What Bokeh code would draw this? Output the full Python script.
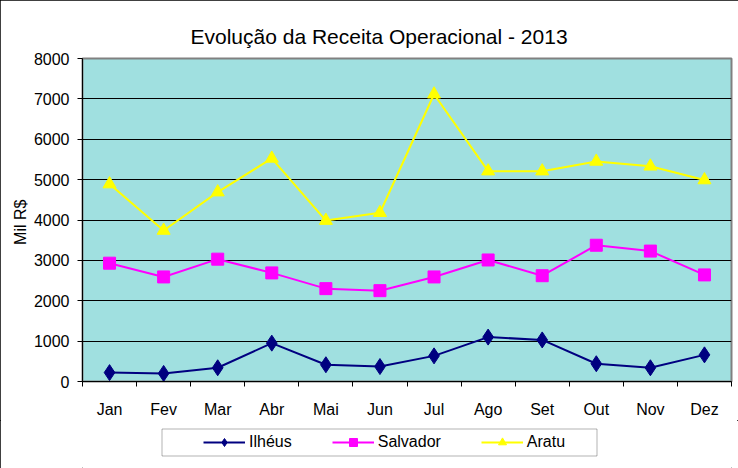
from bokeh.plotting import figure
from bokeh.models import FixedTicker, Legend, LegendItem, Range1d, BoxAnnotation
from bokeh.layouts import column
from bokeh.embed import file_html
from bokeh.resources import INLINE

months = ["Jan", "Fev", "Mar", "Abr", "Mai", "Jun", "Jul", "Ago", "Set", "Out", "Nov", "Dez"]
ilheus = [220, 200, 340, 950, 415, 370, 635, 1100, 1030, 440, 340, 660]
salvador = [2930, 2590, 3030, 2690, 2300, 2250, 2590, 3010, 2620, 3375, 3230, 2640]
aratu = [4890, 3740, 4690, 5525, 3985, 4180, 7115, 5210, 5210, 5450, 5330, 4990]
y_ticks = [0, 1000, 2000, 3000, 4000, 5000, 6000, 7000, 8000]
title_text = "Evolução da Receita Operacional - 2013"
y_label = "Mil  R$"

FONT = "Liberation Sans"
x = [i + 0.5 for i in range(len(months))]

p = figure(width=738, height=420, output_backend="svg", toolbar_location=None,
           x_range=Range1d(0, len(months)), y_range=Range1d(0, 8000),
           min_border_left=82, min_border_right=7, min_border_top=58, min_border_bottom=35)
p.background_fill_color = "#A0E0E0"
p.border_fill_color = "white"
p.outline_line_color = "#808080"
p.outline_line_width = 2

p.title.text = title_text
p.title.align = "left"
p.title.offset = 108
p.title.text_font = FONT
p.title.text_font_size = "21px"
p.title.text_font_style = "normal"
p.title.text_color = "black"
p.title.standoff = 22

p.xgrid.visible = False
p.ygrid.ticker = FixedTicker(ticks=y_ticks[1:-1])
p.ygrid.grid_line_color = "black"
p.ygrid.grid_line_width = 1

yax = p.yaxis[0]
yax.ticker = FixedTicker(ticks=y_ticks)
yax.major_tick_out = 5
yax.major_tick_in = 0
yax.minor_tick_out = 0
yax.minor_tick_in = 0
yax.axis_line_color = "black"
yax.major_label_text_font = FONT
yax.major_label_text_font_size = "16px"
yax.major_label_text_color = "black"
yax.axis_label = y_label
yax.axis_label_text_font = FONT
yax.axis_label_text_font_size = "16px"
yax.axis_label_text_font_style = "normal"
yax.axis_label_text_color = "black"
yax.axis_label_standoff = 2
yax.major_label_standoff = 8

xax = p.xaxis[0]
xax.ticker = FixedTicker(ticks=x, minor_ticks=list(range(len(months) + 1)))
xax.major_label_overrides = {xi: m for xi, m in zip(x, months)}
xax.major_tick_out = 0
xax.major_tick_in = 0
xax.minor_tick_out = 5
xax.minor_tick_in = 0
xax.axis_line_color = "black"
xax.major_label_text_font = FONT
xax.major_label_text_font_size = "16px"
xax.major_label_text_color = "black"
xax.major_label_standoff = 14

series = [
    ("Ilhéus", ilheus, "#000080", "diamond", 16),
    ("Salvador", salvador, "#FF00FF", "square", 12),
    ("Aratu", aratu, "#FFFF00", "triangle", 13),
]

# legend strip below the chart (its frame is aligned with the chart's frame: page x 82..731)
pl = figure(width=738, height=48, output_backend="svg", toolbar_location=None,
            x_range=Range1d(82, 731), y_range=Range1d(48, 0),
            x_axis_type=None, y_axis_type=None,
            min_border_left=82, min_border_right=7, min_border_top=0, min_border_bottom=0)
pl.outline_line_color = None
pl.background_fill_color = "white"
pl.border_fill_color = "white"
pl.xgrid.visible = False
pl.ygrid.visible = False

items = []
for name, vals, color, marker, size in series:
    p.line(x, vals, line_color=color, line_width=2)
    p.scatter(x, vals, marker=marker, size=size, fill_color=color, line_color=color)
    # same series in the legend strip; values lie far outside its range, so only the legend glyph shows
    ll = pl.line(x, vals, line_color=color, line_width=2)
    ls = pl.scatter(x, vals, marker=marker, size=size - 3, fill_color=color, line_color=color)
    items.append(LegendItem(label=name, renderers=[ll, ls]))

legend = Legend(items=items, orientation="horizontal", location=(121, 16),
                label_text_font=FONT, label_text_font_size="16px", label_text_color="black",
                glyph_width=42, glyph_height=20, label_height=20, label_standoff=4,
                spacing=40, padding=0, margin=0,
                border_line_alpha=0, background_fill_alpha=0)
pl.add_layout(legend)

legend_box = BoxAnnotation(left=161.5, right=596.5, top=8.5, bottom=35.5,
                           fill_alpha=0, line_color="black", line_width=1)
pl.add_layout(legend_box)

layout = column(p, pl, spacing=0)
layout.styles = {"outline": "1px solid black", "outline-offset": "-1px"}

open("out.html", "w").write(file_html(layout, INLINE))
